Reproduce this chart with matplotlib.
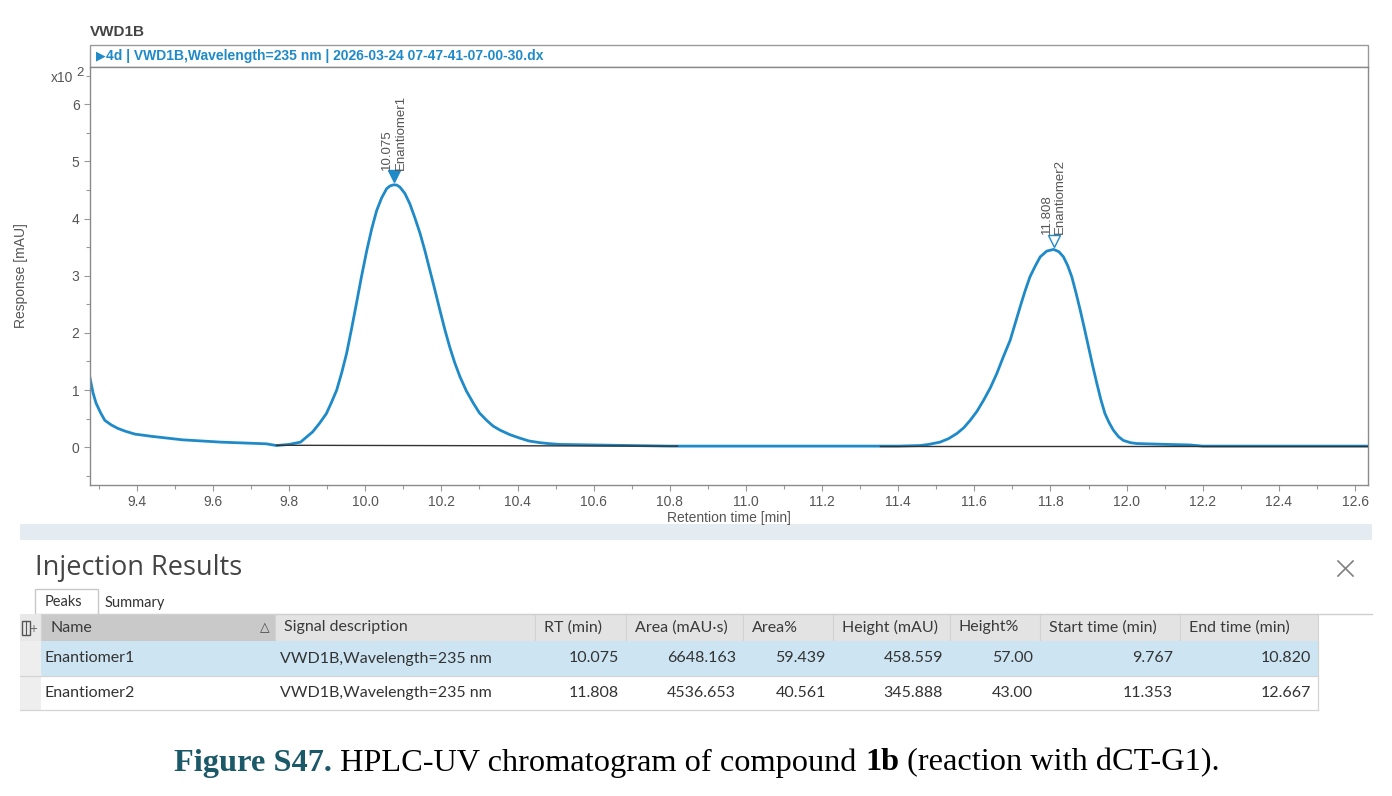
import matplotlib
matplotlib.use("Agg")
import matplotlib.pyplot as plt
from matplotlib.patches import Rectangle
from matplotlib.ticker import MultipleLocator

# chromatogram trace (response in units of 10^2 mAU)
trace_time = [9.277, 9.281, 9.285, 9.289, 9.293, 9.305, 9.316, 9.333, 9.35, 9.37,
              9.395, 9.44, 9.48, 9.52, 9.57, 9.62, 9.66, 9.70, 9.74, 9.767,
              9.80, 9.83, 9.862, 9.88, 9.898, 9.911, 9.925, 9.938, 9.951, 9.964,
              9.977, 9.99, 10.004, 10.017, 10.03, 10.043, 10.056, 10.065, 10.075, 10.083,
              10.091, 10.104, 10.117, 10.13, 10.144, 10.157, 10.17, 10.183, 10.196, 10.209,
              10.222, 10.235, 10.249, 10.266, 10.284, 10.30, 10.319, 10.336, 10.354, 10.38,
              10.406, 10.43, 10.459, 10.48, 10.51, 10.60, 10.70, 10.80, 11.00, 11.20,
              11.40, 11.457, 11.48, 11.51, 11.532, 11.554, 11.572, 11.589, 11.607, 11.624,
              11.642, 11.659, 11.676, 11.694, 11.707, 11.72, 11.733, 11.746, 11.76, 11.773,
              11.79, 11.808, 11.822, 11.834, 11.845, 11.856, 11.867, 11.878, 11.889, 11.90,
              11.911, 11.922, 11.932, 11.943, 11.954, 11.965, 11.978, 11.991, 12.01, 12.027,
              12.105, 12.167, 12.20, 12.40, 12.634]
trace_resp = [1.21, 1.08, 0.95, 0.86, 0.77, 0.60, 0.47, 0.39, 0.33, 0.28,
              0.23, 0.19, 0.16, 0.13, 0.11, 0.09, 0.08, 0.07, 0.06, 0.03,
              0.05, 0.09, 0.27, 0.42, 0.59, 0.78, 1.00, 1.30, 1.64, 2.07,
              2.52, 2.98, 3.44, 3.82, 4.14, 4.36, 4.52, 4.57, 4.59, 4.585,
              4.55, 4.44, 4.26, 4.02, 3.74, 3.43, 3.09, 2.75, 2.40, 2.06,
              1.75, 1.48, 1.23, 0.98, 0.77, 0.60, 0.47, 0.37, 0.30, 0.22,
              0.16, 0.11, 0.08, 0.065, 0.05, 0.04, 0.03, 0.02, 0.02, 0.02,
              0.02, 0.03, 0.05, 0.09, 0.15, 0.24, 0.34, 0.47, 0.63, 0.82,
              1.04, 1.29, 1.58, 1.87, 2.16, 2.45, 2.73, 2.98, 3.17, 3.33,
              3.43, 3.46, 3.42, 3.33, 3.18, 2.98, 2.70, 2.40, 2.08, 1.75,
              1.42, 1.11, 0.84, 0.59, 0.43, 0.30, 0.19, 0.12, 0.08, 0.065,
              0.05, 0.04, 0.02, 0.02, 0.02]

x_ticks = [9.4, 9.6, 9.8, 10.0, 10.2, 10.4, 10.6, 10.8, 11.0, 11.2, 11.4, 11.6, 11.8, 12.0, 12.2, 12.4, 12.6]
y_ticks = [0, 1, 2, 3, 4, 5, 6]

# peak table
peak_names = ["Enantiomer1", "Enantiomer2"]
peak_rt = [10.075, 11.808]
peak_area = [6648.163, 4536.653]
peak_area_pct = [59.439, 40.561]
peak_height = [458.559, 345.888]
peak_height_pct = [57.00, 43.00]
peak_start = [9.767, 11.353]
peak_end = [10.820, 12.667]
peak_base_start = [0.035, 0.02]
peak_base_end = [0.02, 0.02]
signal_desc = "VWD1B,Wavelength=235 nm"
col_headers = ["Name", "Signal description", "RT (min)", "Area (mAU·s)", "Area%",
               "Height (mAU)", "Height%", "Start time (min)", "End time (min)"]

W, H = 1392, 796
BLUE = "#1f8ac8"
GRAY = "#555555"

fig = plt.figure(figsize=(W / 100, H / 100), dpi=100)
fig.patch.set_facecolor("white")

# overlay in pixel coordinates for the panel furniture
ov = fig.add_axes([0, 0, 1, 1])
ov.set_xlim(0, W)
ov.set_ylim(H, 0)
ov.axis("off")
ov.set_zorder(0)

ax = fig.add_axes([90 / W, 1 - 485 / H, 1278 / W, 418 / H])
ax.set_zorder(1)

ax.plot(trace_time, trace_resp, color=BLUE, lw=2.0, solid_joinstyle="round")
for i in range(len(peak_names)):
    ax.plot([peak_start[i], peak_end[i]], [peak_base_start[i], peak_base_end[i]],
            color="#333333", lw=1.0, zorder=3)
    h = peak_height[i] / 100
    if i == 0:
        ax.plot(peak_rt[i], h + 0.15, marker="v", ms=8, color=BLUE, mec=BLUE)
    else:
        ax.plot(peak_rt[i], h + 0.14, marker="v", ms=8, color="white", mec=BLUE, mew=1.0)
    ax.annotate(f"{peak_rt[i]:.3f}\n{peak_names[i]}", xy=(peak_rt[i], h),
                xytext=(0, 11), textcoords="offset points", rotation=90,
                ha="center", va="bottom", multialignment="left",
                fontsize=9.5, color=GRAY, family="Liberation Sans", linespacing=1.15)

ax.set_xlim(9.277, 12.634)
ax.set_ylim(-0.66, 6.65)
ax.set_xticks(x_ticks)
ax.set_xticklabels([f"{t:.1f}" for t in x_ticks])
ax.set_yticks(y_ticks)
ax.xaxis.set_minor_locator(MultipleLocator(0.1))
ax.yaxis.set_minor_locator(MultipleLocator(0.5))
ax.tick_params(which="both", direction="out", color="#999999", labelcolor=GRAY,
               labelsize=10, length=4, width=0.8)
ax.tick_params(which="minor", length=3)
for lab in ax.get_xticklabels() + ax.get_yticklabels():
    lab.set_family("Liberation Sans")
for s in ax.spines.values():
    s.set_color("#8a8a8a")
    s.set_linewidth(1.0)
ax.set_xlabel("Retention time [min]", fontsize=10, color=GRAY, family="Liberation Sans", labelpad=1)
ax.set_ylabel("Response [mAU]", fontsize=10, color=GRAY, family="Liberation Sans")
ax.yaxis.set_label_coords((28 - 90) / 1278, 0.5)

# chart header
ov.text(90, 32, "VWD1B", fontsize=11, weight="bold", color="#444444",
        family="Liberation Sans", va="center", ha="left")
ov.add_patch(Rectangle((90, 45), 1278, 22, fill=False, ec="#9a9a9a", lw=1.0))
ov.text(96, 56, "▶", fontsize=9, color=BLUE, va="center", ha="left", family="DejaVu Sans")
ov.text(106, 56, "4d | VWD1B,Wavelength=235 nm | 2026-03-24 07-47-41-07-00-30.dx",
        fontsize=10, weight="bold", color=BLUE, va="center", ha="left", family="Liberation Sans")
ov.text(73, 78, "x10", fontsize=10, color=GRAY, ha="right", va="center", family="Liberation Sans")
ov.text(76, 73, "2", fontsize=9.5, color=GRAY, ha="left", va="center", family="Liberation Sans")

# splitter strip
ov.add_patch(Rectangle((20, 524), 1352, 16, color="#e4ecf1", lw=0))

# injection results panel
ov.text(35, 568, "Injection Results", fontsize=19.5, color="#444444", family="Open Sans",
        va="center", ha="left")
ov.plot([1338, 1353], [561, 576], color="#808080", lw=1.2)
ov.plot([1338, 1353], [576, 561], color="#808080", lw=1.2)
ov.plot([98, 1372], [614, 614], color="#cfcfcf", lw=1.0)
ov.add_patch(Rectangle((35, 589), 63, 25, fc="white", ec="#c8c8c8", lw=1.0))
ov.text(45, 602, "Peaks", fontsize=10.5, color="#333333", family="Lato", va="center")
ov.text(105, 603, "Summary", fontsize=10.5, color="#333333", family="Lato", va="center")

col_edges = [41, 275, 535, 626, 743, 833, 950, 1040, 1180, 1318]
y_head, y_r1, y_r2, y_end = 614, 641, 676, 710

# header row
ov.add_patch(Rectangle((20, y_head), 21, y_r1 - y_head, color="#e8e8e8", lw=0))
for j in range(len(col_headers)):
    fc = "#c9c9c9" if j == 0 else "#e3e3e3"
    ov.add_patch(Rectangle((col_edges[j], y_head), col_edges[j + 1] - col_edges[j],
                           y_r1 - y_head, fc=fc, ec="#d2d2d2", lw=0.8))
    ov.text(col_edges[j] + 9, (y_head + y_r1) / 2, col_headers[j], fontsize=11.5,
            color="#3a3a3a", family="Lato", va="center", ha="left")
ov.text(265, 628, "△", fontsize=9, color="#444444", ha="center", va="center", family="DejaVu Sans")
# small column chooser icon
ov.add_patch(Rectangle((22, 621), 8, 14, fill=False, ec="#555555", lw=1.0))
ov.plot([26, 26], [621, 635], color="#555555", lw=0.8)
ov.text(33, 629, "+", fontsize=7, color="#555555", ha="center", va="center")

# data rows
row_tops = [y_r1, y_r2]
row_bots = [y_r2, y_end]
row_colors = ["#cde5f3", "white"]
for i in range(len(peak_names)):
    ov.add_patch(Rectangle((20, row_tops[i]), 21, row_bots[i] - row_tops[i], color="#eeeeee", lw=0))
    ov.add_patch(Rectangle((41, row_tops[i]), 1318 - 41, row_bots[i] - row_tops[i],
                           fc=row_colors[i], lw=0))
    ov.plot([20, 1318], [row_bots[i], row_bots[i]], color="#d4d4d4", lw=0.9)
    yc = (row_tops[i] + row_bots[i]) / 2
    values = [f"{peak_rt[i]:.3f}", f"{peak_area[i]:.3f}", f"{peak_area_pct[i]:.3f}",
              f"{peak_height[i]:.3f}", f"{peak_height_pct[i]:.2f}",
              f"{peak_start[i]:.3f}", f"{peak_end[i]:.3f}"]
    ov.text(45, yc, peak_names[i], fontsize=11.5, color="#333333", family="Lato", va="center")
    ov.text(280, yc, signal_desc, fontsize=11.5, color="#333333", family="Lato", va="center")
    for k, v in enumerate(values):
        ov.text(col_edges[k + 3] - 7, yc, v, fontsize=11.5, color="#333333", family="Lato",
                va="center", ha="right")
ov.plot([1318, 1318], [y_r1, y_end], color="#d4d4d4", lw=0.9)

# caption, built from pieces and fitted to the original width
pieces = [("Figure S47.", "bold", "#1b5868"), (" HPLC-UV chromatogram of compound ", "normal", "black"),
          ("1b", "bold", "black"), (" (reaction with dCT-G1).", "normal", "black")]
fig.canvas.draw()
renderer = fig.canvas.get_renderer()
size = 18
texts = []
total = 0
for s, w, c in pieces:
    t = ov.text(0, 763, s, fontsize=size, weight=w, color=c, family="Liberation Serif", va="center")
    total += t.get_window_extent(renderer).width
    texts.append(t)
scale = 1047 / total
x = 698 - 1047 / 2
for t in texts:
    t.set_fontsize(size * scale)
    t.set_x(x)
    x += t.get_window_extent(renderer).width

fig.savefig("out.png", dpi=100, facecolor="white")
